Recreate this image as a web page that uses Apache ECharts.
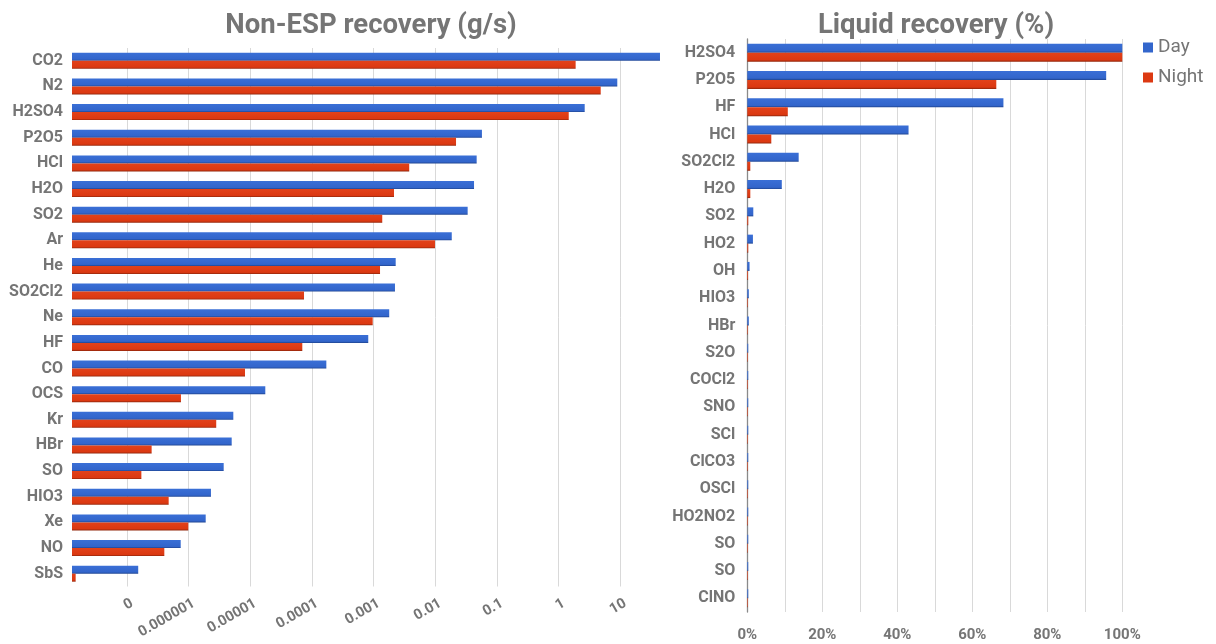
<!DOCTYPE html>
<html>
<head>
<meta charset="utf-8">
<style>
  html, body { margin: 0; padding: 0; background: #ffffff; }
  #chart { width: 1216px; height: 644px; }
</style>
<script src="https://cdn.jsdelivr.net/npm/echarts@6/dist/echarts.min.js"></script>
</head>
<body>
<div id="chart"></div>
<script>
// Non-ESP recovery, g/s (log scale)
const gasSpecies = ['CO2', 'N2', 'H2SO4', 'P2O5', 'HCl', 'H2O', 'SO2', 'Ar', 'He', 'SO2Cl2',
  'Ne', 'HF', 'CO', 'OCS', 'Kr', 'HBr', 'SO', 'HIO3', 'Xe', 'NO', 'SbS'];
const gasDay = [44.1, 8.95, 2.65, 0.0571, 0.0469, 0.0425, 0.0335, 0.0185, 0.00228, 0.00222,
  0.00179, 0.000818, 0.000171, 0.0000175, 0.0000053, 0.00000499, 0.0000037, 0.0000023,
  0.00000189, 0.000000743, 0.000000152];
const gasNight = [1.89, 4.82, 1.46, 0.0217, 0.00378, 0.00214, 0.00138, 0.00989, 0.00127,
  0.0000743, 0.000966, 0.0000697, 0.0000082, 0.00000075, 0.0000028, 0.000000251,
  0.000000171, 0.000000474, 0.000000986, 0.000000403, 0.0000000147];
// tick labels for the decades 1e-7 ... 1e1
const logTickLabels = ['0', '0.000001', '0.00001', '0.0001', '0.001', '0.01', '0.1', '1', '10'];

// Liquid recovery, %
const liquidSpecies = ['H2SO4', 'P2O5', 'HF', 'HCl', 'SO2Cl2', 'H2O', 'SO2', 'HO2', 'OH', 'HIO3',
  'HBr', 'S2O', 'COCl2', 'SNO', 'SCl', 'ClCO3', 'OSCl', 'HO2NO2', 'SO', 'SO', 'ClNO'];
const liquidDay = [100, 95.7, 68.3, 43.0, 13.7, 9.2, 1.6, 1.5, 0.6, 0.4, 0.4, 0.25, 0.25, 0.25,
  0.25, 0.25, 0.25, 0.25, 0.25, 0.25, 0.25];
const liquidNight = [100, 66.4, 10.8, 6.4, 0.8, 0.8, 0.25, 0.25, 0.2, 0.15, 0.15, 0.15, 0.15,
  0.15, 0.15, 0.15, 0.15, 0.15, 0.15, 0.15, 0.15];

const TEXT = '#757575';
const GRID_LINE = '#d9d9d9';
const FONT = 'Roboto';
const LOG_MIN = Math.pow(10, -7.892);
const LOG_MAX = Math.pow(10, 1.75);

function barFill(top, mid, bottom) {
  return new echarts.graphic.LinearGradient(0, 0, 0, 1, [
    { offset: 0, color: top },
    { offset: 0.72, color: mid },
    { offset: 0.8, color: mid },
    { offset: 1, color: bottom }
  ]);
}
const dayFill = barFill('#3a6fd6', '#3366cc', '#1f4592');
const nightFill = barFill('#e2421a', '#dc3912', '#92260b');

function catLabel(margin) {
  return { color: TEXT, fontFamily: FONT, fontWeight: 'bold', fontSize: 16, margin: margin };
}

const chart = echarts.init(document.getElementById('chart'), null, { renderer: 'canvas' });

chart.setOption({
  animation: false,
  backgroundColor: '#ffffff',
  title: [
    {
      text: 'Non-ESP recovery (g/s)', left: 366, top: 7, textAlign: 'center',
      textStyle: { color: TEXT, fontFamily: FONT, fontWeight: 'bold', fontSize: 27.5 }
    },
    {
      text: 'Liquid recovery (%)', left: 931, top: 7, textAlign: 'center',
      textStyle: { color: TEXT, fontFamily: FONT, fontWeight: 'bold', fontSize: 27.5 }
    }
  ],
  legend: {
    orient: 'vertical', left: 1138, top: 33, itemWidth: 10, itemHeight: 10, itemGap: 11,
    icon: 'rect',
    textStyle: { color: TEXT, fontFamily: FONT, fontSize: 19 },
    data: [
      { name: 'Day', itemStyle: { color: '#3366cc' } },
      { name: 'Night', itemStyle: { color: '#dc3912' } }
    ]
  },
  grid: [
    { left: 72, top: 48, width: 594.5, height: 538.5 },
    { left: 747.3, top: 39, width: 375, height: 573 }
  ],
  xAxis: [
    {
      gridIndex: 0, type: 'log', logBase: 10,
      min: LOG_MIN, max: LOG_MAX, startValue: LOG_MIN, splitNumber: 10,
      axisLine: { show: false }, axisTick: { show: false },
      splitLine: { show: true, showMinLine: false, showMaxLine: false,
        lineStyle: { color: GRID_LINE, width: 1 } },
      axisLabel: {
        rotate: 30, margin: 19, color: TEXT, fontFamily: FONT, fontWeight: 'bold', fontSize: 14.5,
        padding: [0, -6, 0, 0],
        showMinLabel: false, showMaxLabel: false,
        formatter: function (v) {
          const e = Math.log10(v);
          const r = Math.round(e);
          if (Math.abs(e - r) > 1e-6) return '';
          return logTickLabels[r + 7] || '';
        }
      }
    },
    {
      gridIndex: 1, type: 'value', min: 0, max: 100, interval: 10,
      axisLine: { show: false }, axisTick: { show: false },
      splitLine: { show: true, lineStyle: { color: GRID_LINE, width: 1 } },
      axisLabel: {
        margin: 16, color: TEXT, fontFamily: FONT, fontWeight: 'bold', fontSize: 15,
        formatter: function (v) { return v % 20 === 0 ? v + '%' : ''; }
      }
    }
  ],
  yAxis: [
    {
      gridIndex: 0, type: 'category', inverse: true, data: gasSpecies,
      axisLine: { show: false }, axisTick: { show: false }, axisLabel: catLabel(9)
    },
    {
      gridIndex: 1, type: 'category', inverse: true, data: liquidSpecies,
      axisLine: { show: true, lineStyle: { color: '#8a8a8a', width: 1.3 } },
      axisTick: { show: false }, axisLabel: catLabel(12)
    }
  ],
  series: [
    { name: 'Day', type: 'bar', xAxisIndex: 0, yAxisIndex: 0, data: gasDay,
      barWidth: 8, barGap: '0%', itemStyle: { color: dayFill } },
    { name: 'Night', type: 'bar', xAxisIndex: 0, yAxisIndex: 0, data: gasNight,
      barWidth: 8, barGap: '0%', itemStyle: { color: nightFill } },
    { name: 'Day', type: 'bar', xAxisIndex: 1, yAxisIndex: 1, data: liquidDay,
      barWidth: 9, barGap: '0%', itemStyle: { color: dayFill } },
    { name: 'Night', type: 'bar', xAxisIndex: 1, yAxisIndex: 1, data: liquidNight,
      barWidth: 9, barGap: '0%', itemStyle: { color: nightFill } }
  ]
});
</script>
</body>
</html>
